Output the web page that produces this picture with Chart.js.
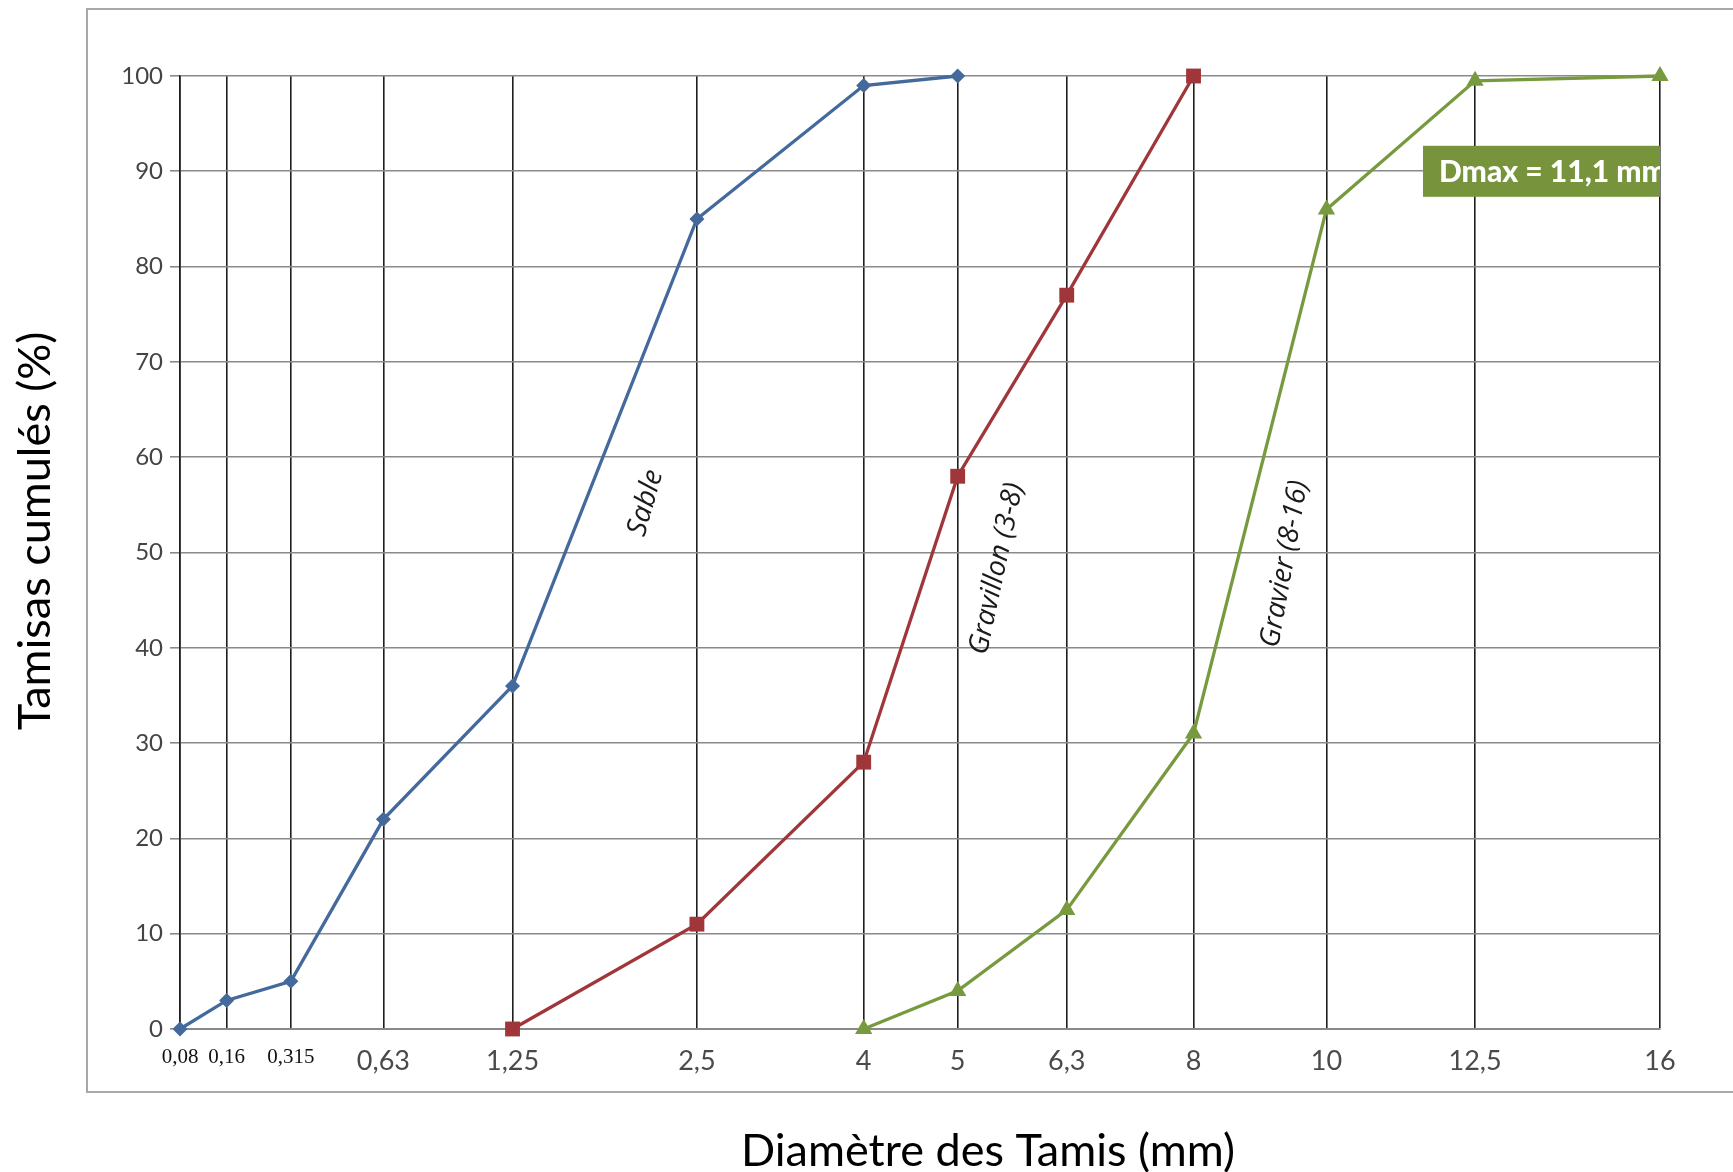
<!DOCTYPE html>
<html>
<head>
<meta charset="utf-8">
<script src="https://cdn.jsdelivr.net/npm/chart.js@4/dist/chart.umd.min.js"></script>
<style>
  html, body { margin: 0; padding: 0; background: #ffffff; }
  #wrap { width: 1733px; height: 1172px; position: relative; }
</style>
</head>
<body>
<div id="wrap"><canvas id="c" width="1733" height="1172"></canvas></div>
<script>
// ---- data ----
const sieveSizes = [0.08, 0.16, 0.315, 0.63, 1.25, 2.5, 4, 5, 6.3, 8, 10, 12.5, 16];
const sieveLabels = ['0,08', '0,16', '0,315', '0,63', '1,25', '2,5', '4', '5', '6,3', '8', '10', '12,5', '16'];

const sableSizes = [0.08, 0.16, 0.315, 0.63, 1.25, 2.5, 4, 5];
const sableValues = [0, 3, 5, 22, 36, 85, 99, 100];

const gravillonSizes = [1.25, 2.5, 4, 5, 6.3, 8];
const gravillonValues = [0, 11, 28, 58, 77, 100];

const gravierSizes = [4, 5, 6.3, 8, 10, 12.5, 16];
const gravierValues = [0, 4, 12.5, 31, 86, 99.5, 100];

const seriesNames = ['Sable', 'Gravillon (3-8)', 'Gravier (8-16)'];
const dmaxText = 'Dmax = 11,1 mm';
const yTitle = 'Tamisas cumulés (%)';
const xTitle = 'Diamètre des Tamis (mm)';

// ---- square-root scale (grading-curve abscissa) ----
class SqrtScale extends Chart.LinearScale {
  buildTicks() {
    return sieveSizes.map(v => ({ value: v }));
  }
  configure() {
    super.configure();
    this._sqMin = Math.sqrt(this.min);
    this._sqRange = Math.sqrt(this.max) - this._sqMin;
  }
  getPixelForValue(value) {
    if (value === null || value === undefined || isNaN(value)) return NaN;
    return this.getPixelForDecimal((Math.sqrt(value) - this._sqMin) / this._sqRange);
  }
  getValueForPixel(pixel) {
    const s = this._sqMin + this.getDecimalForPixel(pixel) * this._sqRange;
    return s * s;
  }
}
SqrtScale.id = 'sqrt';
SqrtScale.defaults = {};
Chart.register(SqrtScale);

function pts(xs, ys) { return xs.map((x, i) => ({ x: x, y: ys[i] })); }

const blue = '#44699c';
const red = '#a0363a';
const green = '#789a3e';

// label anchors (data units) for rotated curve names
const curveLabels = [
  { text: seriesNames[0], x: 2.11, y: 55.2, angle: -74 },
  { text: seriesNames[1], x: 5.45, y: 48.3, angle: -78 },
  { text: seriesNames[2], x: 9.35, y: 48.8, angle: -80 }
];

const decorPlugin = {
  id: 'decor',
  beforeDraw(chart) {
    const ctx = chart.ctx;
    ctx.save();
    ctx.fillStyle = '#ffffff';
    ctx.fillRect(0, 0, chart.width, chart.height);
    ctx.strokeStyle = '#a8a8a8';
    ctx.lineWidth = 2;
    ctx.strokeRect(87, 9, 1760, 1083);
    ctx.restore();
  },
  afterDatasetsDraw(chart) {
    const ctx = chart.ctx;
    const xs = chart.scales.x, ys = chart.scales.y;
    ctx.save();
    // curve names
    ctx.fillStyle = '#1a1a1a';
    ctx.font = 'italic 28px "Open Sans"';
    ctx.textAlign = 'center';
    ctx.textBaseline = 'middle';
    curveLabels.forEach(l => {
      ctx.save();
      ctx.translate(xs.getPixelForValue(l.x), ys.getPixelForValue(l.y));
      ctx.rotate(l.angle * Math.PI / 180);
      ctx.fillText(l.text, 0, 0);
      ctx.restore();
    });
    // Dmax box (right edge on the 16 mm line, centred on 90 %)
    const right = xs.getPixelForValue(16);
    const cy = ys.getPixelForValue(90);
    const w = 237, h = 51;
    ctx.fillStyle = '#77933c';
    ctx.fillRect(right - w, cy - h / 2, w, h);
    ctx.save();
    ctx.beginPath();
    ctx.rect(right - w, cy - h / 2, w, h);
    ctx.clip();
    ctx.fillStyle = '#ffffff';
    ctx.font = '900 30px Lato';
    ctx.textAlign = 'left';
    ctx.textBaseline = 'middle';
    ctx.fillText(dmaxText, right - w + 16, cy + 1);
    ctx.restore();
    // axis titles
    ctx.fillStyle = '#000000';
    ctx.font = '45px Lato';
    ctx.textAlign = 'center';
    ctx.textBaseline = 'middle';
    ctx.fillText(xTitle, 988, 1151);
    ctx.save();
    ctx.translate(35, 531);
    ctx.rotate(-Math.PI / 2);
    ctx.fillText(yTitle, 0, 0);
    ctx.restore();
    ctx.restore();
  }
};

new Chart(document.getElementById('c'), {
  type: 'line',
  data: {
    datasets: [
      {
        label: seriesNames[0], data: pts(sableSizes, sableValues),
        borderColor: blue, backgroundColor: blue, borderWidth: 3.3,
        pointStyle: 'rectRot', pointRadius: 7.5, pointBorderWidth: 0, clip: false
      },
      {
        label: seriesNames[1], data: pts(gravillonSizes, gravillonValues),
        borderColor: red, backgroundColor: red, borderWidth: 3.3,
        pointStyle: 'rect', pointRadius: 10.5, pointBorderWidth: 0, clip: false
      },
      {
        label: seriesNames[2], data: pts(gravierSizes, gravierValues),
        borderColor: green, backgroundColor: green, borderWidth: 3.3,
        pointStyle: 'triangle', pointRadius: 10, pointBorderWidth: 0, clip: false
      }
    ]
  },
  options: {
    responsive: false,
    animation: false,
    devicePixelRatio: 1,
    layout: { padding: { left: 0, top: 76, right: 73, bottom: 0 } },
    plugins: { legend: { display: false }, tooltip: { enabled: false } },
    elements: { line: { tension: 0 } },
    scales: {
      x: {
        type: 'sqrt',
        min: 0.08, max: 16,
        afterFit(scale) { scale.height = 143; },
        border: { display: true, color: '#888888', width: 2 },
        grid: { color: '#1e1e1e', lineWidth: 1.6, drawTicks: false },
        ticks: {
          autoSkip: false, maxRotation: 0, minRotation: 0, padding: 16,
          callback: (v, i) => sieveLabels[i],
          color: (c) => c.index < 3 ? '#111111' : '#4a4a4a',
          font: (c) => c.index < 3 ? { family: '"Liberation Serif"', size: 21 } : { family: 'Lato', size: 27 }
        }
      },
      y: {
        min: 0, max: 100,
        afterFit(scale) { scale.width = 180; },
        border: { display: true, color: '#1e1e1e', width: 1.6 },
        grid: { color: '#8a8a8a', lineWidth: 1.6, tickLength: 10, drawTicks: true },
        ticks: { stepSize: 10, padding: 7, color: '#444444', font: { family: 'Lato', size: 24 } },
        title: { display: false }
      }
    }
  },
  plugins: [decorPlugin]
});
</script>
</body>
</html>
